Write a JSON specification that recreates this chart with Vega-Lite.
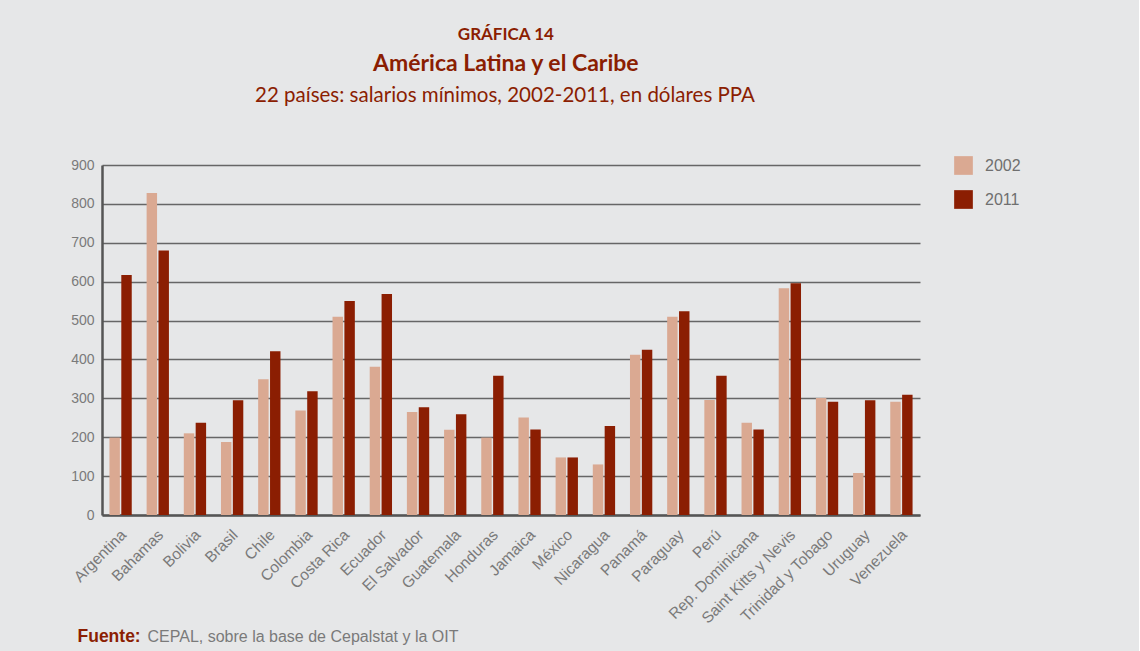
{
  "$schema": "https://vega.github.io/schema/vega-lite/v6.json",
  "background": "#e6e7e8",
  "padding": {"left": 70, "top": 25, "right": 118, "bottom": 8},
  "title": {
    "text": "GRÁFICA 14",
    "subtitle": "América Latina y el Caribe",
    "anchor": "middle",
    "dx": -40,
    "font": "Lato, sans-serif",
    "fontSize": 17,
    "fontWeight": "bold",
    "color": "#8b1e02",
    "subtitleFont": "Lato, sans-serif",
    "subtitleFontSize": 23,
    "subtitleFontWeight": "bold",
    "subtitleColor": "#8b1e02",
    "subtitlePadding": 9,
    "offset": 9
  },
  "vconcat": [
    {
      "title": {
        "text": "22 países: salarios mínimos, 2002-2011, en dólares PPA",
        "anchor": "middle",
        "dx": -6,
        "font": "Lato, sans-serif",
        "fontSize": 20.5,
        "fontWeight": "normal",
        "color": "#8b1e02",
        "offset": 52
      },
      "width": 818,
      "height": 350,
      "data": {
        "values": [
          {"pais": "Argentina", "year": "2002", "valor": 199},
          {"pais": "Argentina", "year": "2011", "valor": 617},
          {"pais": "Bahamas", "year": "2002", "valor": 828},
          {"pais": "Bahamas", "year": "2011", "valor": 680},
          {"pais": "Bolivia", "year": "2002", "valor": 210},
          {"pais": "Bolivia", "year": "2011", "valor": 237},
          {"pais": "Brasil", "year": "2002", "valor": 188},
          {"pais": "Brasil", "year": "2011", "valor": 295},
          {"pais": "Chile", "year": "2002", "valor": 349},
          {"pais": "Chile", "year": "2011", "valor": 421},
          {"pais": "Colombia", "year": "2002", "valor": 269},
          {"pais": "Colombia", "year": "2011", "valor": 318},
          {"pais": "Costa Rica", "year": "2002", "valor": 510},
          {"pais": "Costa Rica", "year": "2011", "valor": 550},
          {"pais": "Ecuador", "year": "2002", "valor": 381},
          {"pais": "Ecuador", "year": "2011", "valor": 568},
          {"pais": "El Salvador", "year": "2002", "valor": 265},
          {"pais": "El Salvador", "year": "2011", "valor": 277},
          {"pais": "Guatemala", "year": "2002", "valor": 219},
          {"pais": "Guatemala", "year": "2011", "valor": 259},
          {"pais": "Honduras", "year": "2002", "valor": 199},
          {"pais": "Honduras", "year": "2011", "valor": 358},
          {"pais": "Jamaica", "year": "2002", "valor": 251},
          {"pais": "Jamaica", "year": "2011", "valor": 220},
          {"pais": "México", "year": "2002", "valor": 148},
          {"pais": "México", "year": "2011", "valor": 148},
          {"pais": "Nicaragua", "year": "2002", "valor": 130},
          {"pais": "Nicaragua", "year": "2011", "valor": 229},
          {"pais": "Panamá", "year": "2002", "valor": 412},
          {"pais": "Panamá", "year": "2011", "valor": 425},
          {"pais": "Paraguay", "year": "2002", "valor": 510},
          {"pais": "Paraguay", "year": "2011", "valor": 524},
          {"pais": "Perú", "year": "2002", "valor": 296},
          {"pais": "Perú", "year": "2011", "valor": 358},
          {"pais": "Rep. Dominicana", "year": "2002", "valor": 237},
          {"pais": "Rep. Dominicana", "year": "2011", "valor": 220},
          {"pais": "Saint Kitts y Nevis", "year": "2002", "valor": 583},
          {"pais": "Saint Kitts y Nevis", "year": "2011", "valor": 596},
          {"pais": "Trinidad y Tobago", "year": "2002", "valor": 301},
          {"pais": "Trinidad y Tobago", "year": "2011", "valor": 291},
          {"pais": "Uruguay", "year": "2002", "valor": 108},
          {"pais": "Uruguay", "year": "2011", "valor": 295},
          {"pais": "Venezuela", "year": "2002", "valor": 291},
          {"pais": "Venezuela", "year": "2011", "valor": 309}
        ]
      },
      "mark": {"type": "bar"},
      "encoding": {
        "x": {
          "field": "pais",
          "type": "nominal",
          "sort": null,
          "scale": {"paddingInner": 0.4, "paddingOuter": 0.2},
          "axis": {
            "title": "CEPAL, sobre la base de Cepalstat y la OIT",
            "titleFont": "Liberation Sans, sans-serif",
            "titleFontSize": 16,
            "titleFontWeight": "normal",
            "titleColor": "#7a7a7a",
            "titleAnchor": "start",
            "titleAlign": "left",
            "titleBaseline": "alphabetic",
            "titleX": 45,
            "titleY": 126,
            "labelAngle": -45,
            "labelAlign": "right",
            "labelBaseline": "top",
            "labelFont": "Liberation Sans, sans-serif",
            "labelFontSize": 15.5,
            "labelColor": "#7a7a7a",
            "labelPadding": 12,
            "labelOffset": -2,
            "ticks": false,
            "domainColor": "#555555",
            "domainWidth": 2.5
          }
        },
        "xOffset": {
          "field": "year",
          "type": "nominal",
          "scale": {"paddingInner": 0.12}
        },
        "y": {
          "field": "valor",
          "type": "quantitative",
          "scale": {"domain": [0, 900]},
          "axis": {
            "values": [0, 100, 200, 300, 400, 500, 600, 700, 800, 900],
            "title": "Fuente:",
            "titleAngle": 0,
            "titleAlign": "left",
            "titleBaseline": "alphabetic",
            "titleX": -25,
            "titleY": 476,
            "titleFont": "Liberation Sans, sans-serif",
            "titleFontSize": 17.5,
            "titleFontWeight": "bold",
            "titleColor": "#8b1e02",
            "labelFont": "Liberation Sans, sans-serif",
            "labelFontSize": 14,
            "labelColor": "#7a7a7a",
            "labelPadding": 8,
            "ticks": false,
            "grid": true,
            "gridColor": "#666666",
            "gridWidth": 1.6,
            "domainColor": "#555555",
            "domainWidth": 2.5
          }
        },
        "color": {
          "field": "year",
          "type": "nominal",
          "scale": {"domain": ["2002", "2011"], "range": ["#daa992", "#8b1e02"]},
          "legend": {
            "title": null,
            "orient": "none",
            "legendX": 852,
            "legendY": -9,
            "symbolType": "square",
            "symbolSize": 350,
            "symbolStrokeWidth": 0,
            "rowPadding": 15,
            "labelFont": "Liberation Sans, sans-serif",
            "labelFontSize": 16,
            "labelColor": "#6f6f6f",
            "labelOffset": 12
          }
        }
      }
    }
  ],
  "config": {
    "view": {"stroke": null},
    "axis": {"labelFontWeight": "normal"}
  }
}
